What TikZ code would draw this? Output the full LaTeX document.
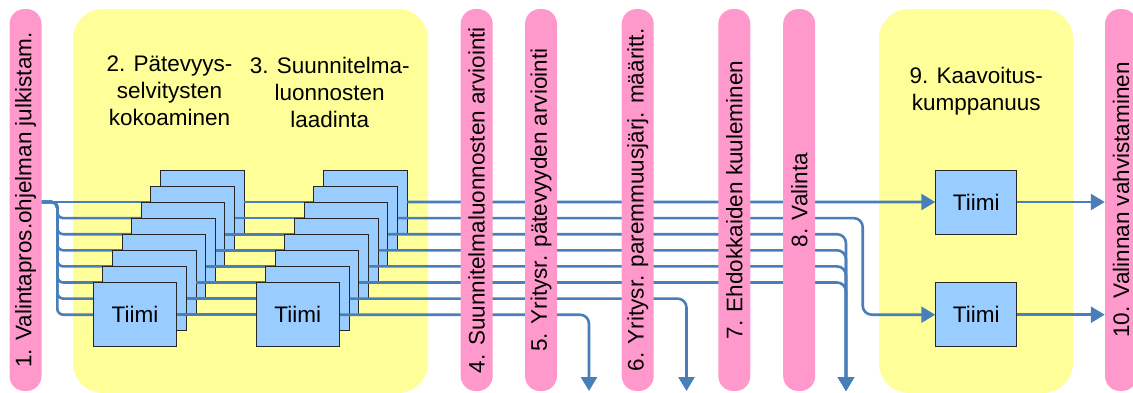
\documentclass[tikz,border=0pt]{standalone}
\usepackage{fontspec}
\setmainfont{Liberation Sans}
\usetikzlibrary{arrows.meta}
\pgfdeclarelayer{zones}
\pgfdeclarelayer{bars}
\pgfsetlayers{zones,main,bars}
\definecolor{barpink}{HTML}{FF99CC}
\definecolor{zoneyellow}{HTML}{FFFF99}
\definecolor{teamblue}{HTML}{99CCFF}
\definecolor{flowblue}{HTML}{4A7EBB}

\begin{document}
\begin{tikzpicture}[x=1pt,y=-1pt,
  txt/.style={font=\fontsize{22.5}{27}\selectfont},
  bar/.style={txt, fill=barpink, rounded corners=15pt, minimum width=32pt,
    minimum height=382pt, inner sep=0pt},
  zone/.style={fill=zoneyellow, rounded corners=30pt, inner sep=0pt},
  team/.style={txt, draw=black!85, line width=0.9pt, fill=teamblue,
    minimum width=83.5pt, minimum height=64pt, inner sep=0pt},
  head/.style={txt, align=center, inner sep=0pt, anchor=north},
  flow/.style={draw=flowblue, line width=2.6pt},
  tip/.style={-{Triangle[length=14pt,width=16pt]}},
]
\useasboundingbox (0,0) rectangle (1133,392);

% yellow phase areas
\begin{pgfonlayer}{zones}
  \node[zone, minimum width=355pt, minimum height=384pt] (z1) at (250.5,201) {};
  \node[zone, minimum width=194pt, minimum height=384pt] (z2) at (976,201) {};
\end{pgfonlayer}

% pink milestone bars, drawn above the flow lines
\begin{pgfonlayer}{bars}
  \node[bar] (b1)  at (25.5,200)  {\rotatebox{90}{1. Valintapros.ohjelman julkistam.}};
  \node[bar] (b4)  at (476.7,200) {\rotatebox{90}{4. Suunnitelmaluonnosten arviointi}};
  \node[bar] (b5)  at (541,200)   {\rotatebox{90}{5. Yritysr. pätevyyden arviointi}};
  \node[bar] (b6)  at (637.7,200) {\rotatebox{90}{6. Yritysr. paremmuusjärj. määritt.}};
  \node[bar] (b7)  at (734.3,200) {\rotatebox{90}{7. Ehdokkaiden kuuleminen}};
  \node[bar] (b8)  at (799.2,200) {\rotatebox{90}{8. Valinta}};
  \node[bar] (b10) at (1121,200)  {\rotatebox{90}{10. Valinnan vahvistaminen}};
\end{pgfonlayer}

% phase headings
\node[head] (h2) at (169.5,56)  {2. Pätevyys-\\selvitysten\\kokoaminen};
\node[head] (h3) at (329.7,56.5) {3. Suunnitelma-\\luonnosten\\laadinta};
\node[head] (h9) at (976.3,67)  {9. Kaavoitus-\\kumppanuus};

% branching point and free line ends
\coordinate (trunk) at (57.3,202);
\coordinate (bend)  at (862.7,314.7);
\coordinate (drop0) at (589,391);
\coordinate (drop1) at (686.5,391);
\coordinate (drop2) at (846,391);

% stacked team cards, back to front, with their flow lines
\foreach \k in {7,6,...,0}{
  \node[team] (a\k) at ({135+9.6*\k},{314.7-16.1*\k}) {\ifnum\k=0 Tiimi\fi};
  \node[team] (c\k) at ({297.7+9.65*\k},{314.7-16.1*\k}) {\ifnum\k=0 Tiimi\fi};
  \ifnum\k=7
    \draw[flow] (b1.east |- a7.west) -- (a7.west);
  \else
    \draw[flow, rounded corners=6pt] (b1.east |- a7.west) -- (trunk) |- (a\k.west);
  \fi
  \draw[flow] (a\k.east) -- (c\k.west);
}

% partnership teams
\node[team, minimum width=81pt] (t1) at (976.2,202)   {Tiimi};
\node[team, minimum width=81pt] (t2) at (976.2,314.7) {Tiimi};

% outgoing flows
\draw[flow, tip] (c7.east) -- (t1.west);
\draw[flow, tip, rounded corners=9pt] (c6.east) -| (bend) -- (t2.west);
\foreach \k in {2,...,5}
  \draw[flow, tip, rounded corners=9pt] (c\k.east) -| (drop2);
\draw[flow, tip, rounded corners=9pt] (c1.east) -| (drop1);
\draw[flow, tip, rounded corners=9pt] (c0.east) -| (drop0);
\draw[flow, tip] (t1.east) -- (t1.east -| b10.west);
\draw[flow, tip] (t2.east) -- (t2.east -| b10.west);
\end{tikzpicture}
\end{document}
